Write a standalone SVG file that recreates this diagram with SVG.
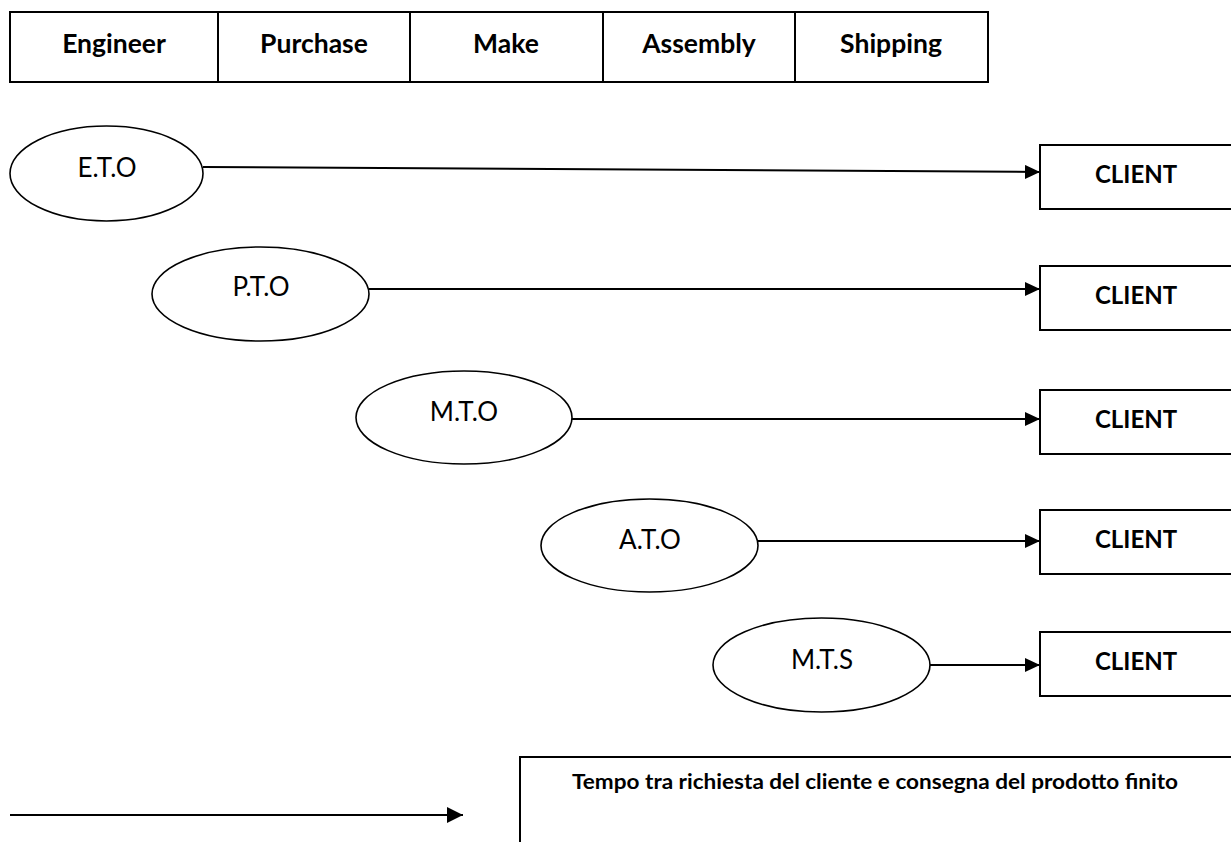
<svg xmlns="http://www.w3.org/2000/svg" width="1231" height="842" viewBox="0 0 1231 842">
  <style>
    .box { fill: #fff; stroke: #000; stroke-width: 2; }
    .oval { fill: #fff; stroke: #000; stroke-width: 1.6; }
    .wire { fill: none; stroke: #000; stroke-width: 2; }
    .hd { font-family: Lato, "Liberation Sans", sans-serif; font-weight: bold; font-size: 26.5px; text-anchor: middle; fill: #000; }
    .lbl { font-family: Lato, "Liberation Sans", sans-serif; font-size: 26px; text-anchor: middle; fill: #000; }
    .cl { font-family: Lato, "Liberation Sans", sans-serif; font-weight: bold; font-size: 24px; text-anchor: middle; fill: #000; }
    .note { font-family: Lato, "Liberation Sans", sans-serif; font-weight: bold; font-size: 20px; text-anchor: middle; fill: #000; }
  </style>
  <defs>
    <marker id="arrow" markerUnits="userSpaceOnUse" markerWidth="16" markerHeight="16" refX="15" refY="7" orient="auto">
      <path d="M0,0 L15,7 L0,14 z" fill="#000"/>
    </marker>
    <marker id="arrowBig" markerUnits="userSpaceOnUse" markerWidth="18" markerHeight="18" refX="16" refY="8" orient="auto">
      <path d="M0,0 L16,8 L0,16 z" fill="#000"/>
    </marker>
  </defs>
  <rect width="1231" height="842" fill="#fff"/>

  <!-- phase header -->
  <g id="header">
    <rect class="box" x="10" y="12" width="978" height="70"/>
    <line class="wire" x1="218" y1="12" x2="218" y2="82"/>
    <line class="wire" x1="410" y1="12" x2="410" y2="82"/>
    <line class="wire" x1="603" y1="12" x2="603" y2="82"/>
    <line class="wire" x1="795" y1="12" x2="795" y2="82"/>
    <text class="hd" x="114" y="53">Engineer</text>
    <text class="hd" x="314" y="53">Purchase</text>
    <text class="hd" x="506" y="53">Make</text>
    <text class="hd" x="699" y="53">Assembly</text>
    <text class="hd" x="891" y="53">Shipping</text>
  </g>

  <!-- connectors -->
  <g id="connectors">
    <line class="wire" x1="203" y1="167" x2="1040" y2="172" marker-end="url(#arrow)"/>
    <line class="wire" x1="369" y1="289" x2="1040" y2="289" marker-end="url(#arrow)"/>
    <line class="wire" x1="572" y1="419" x2="1040" y2="419" marker-end="url(#arrow)"/>
    <line class="wire" x1="758" y1="541" x2="1040" y2="541" marker-end="url(#arrow)"/>
    <line class="wire" x1="930" y1="665" x2="1040" y2="665" marker-end="url(#arrow)"/>
    <line class="wire" x1="10" y1="815" x2="463" y2="815" marker-end="url(#arrowBig)"/>
  </g>

  <!-- order strategies -->
  <g id="eto">
    <ellipse class="oval" cx="106.5" cy="173.5" rx="96.5" ry="47.5"/>
    <text class="lbl" x="107" y="177">E.T.O</text>
  </g>
  <g id="pto">
    <ellipse class="oval" cx="260.5" cy="294" rx="108.5" ry="47"/>
    <text class="lbl" x="261" y="296">P.T.O</text>
  </g>
  <g id="mto">
    <ellipse class="oval" cx="464" cy="417.5" rx="108" ry="46.5"/>
    <text class="lbl" x="464" y="421">M.T.O</text>
  </g>
  <g id="ato">
    <ellipse class="oval" cx="649.5" cy="545.5" rx="108.5" ry="46.5"/>
    <text class="lbl" x="650" y="549">A.T.O</text>
  </g>
  <g id="mts">
    <ellipse class="oval" cx="821.5" cy="665" rx="108.5" ry="47"/>
    <text class="lbl" x="822" y="669">M.T.S</text>
  </g>

  <!-- client boxes -->
  <g id="client1">
    <rect class="box" x="1040" y="145" width="200" height="64"/>
    <text class="cl" x="1136" y="183">CLIENT</text>
  </g>
  <g id="client2">
    <rect class="box" x="1040" y="266" width="200" height="64"/>
    <text class="cl" x="1136" y="304">CLIENT</text>
  </g>
  <g id="client3">
    <rect class="box" x="1040" y="390" width="200" height="64"/>
    <text class="cl" x="1136" y="428">CLIENT</text>
  </g>
  <g id="client4">
    <rect class="box" x="1040" y="510" width="200" height="64"/>
    <text class="cl" x="1136" y="548">CLIENT</text>
  </g>
  <g id="client5">
    <rect class="box" x="1040" y="632" width="200" height="64"/>
    <text class="cl" x="1136" y="670">CLIENT</text>
  </g>

  <!-- legend -->
  <g id="legend">
    <rect class="box" x="520" y="757" width="720" height="100"/>
    <text class="note" x="875" y="789" textLength="606" lengthAdjust="spacingAndGlyphs">Tempo tra richiesta del cliente e consegna del prodotto finito</text>
  </g>
</svg>
